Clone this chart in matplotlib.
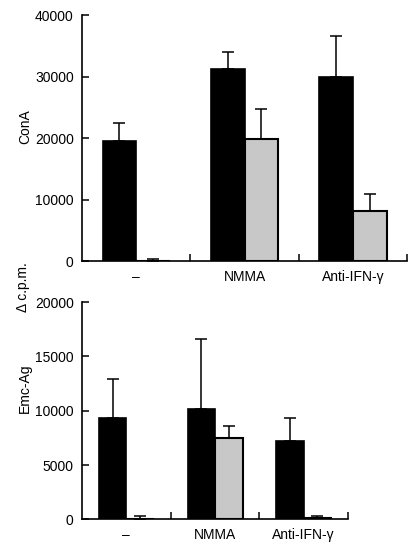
import matplotlib
matplotlib.use('Agg')
import matplotlib.pyplot as plt
import numpy as np

plt.rcParams['font.family'] = ['Liberation Sans', 'DejaVu Sans']

# -----------------------------------------------------------------------
# Data
# -----------------------------------------------------------------------
groups = ['\u2013', 'NMMA', 'Anti-IFN-\u03b3']

cona_black = [19500, 31300, 29900]
cona_black_err = [3000, 2700, 6700]
cona_gray = [100, 19900, 8100]
cona_gray_err = [300, 4800, 2900]

emc_black = [9350, 10200, 7200]
emc_black_err = [3600, 6400, 2150]
emc_gray = [50, 7450, 100]
emc_gray_err = [250, 1100, 200]


def draw_panel(ax, black, black_err, gray, gray_err, ymax, ystep):
    x = np.arange(len(groups))
    w = 0.31
    ax.bar(x - w / 2, black, w, color='black', edgecolor='black',
           linewidth=1.2, zorder=2)
    ax.bar(x + w / 2, gray, w, color='#c8c8c8', edgecolor='black',
           linewidth=1.5, zorder=2)
    zeros = np.zeros(len(groups))
    ax.errorbar(x - w / 2, black, yerr=[zeros, black_err], fmt='none',
                ecolor='black', elinewidth=1.1, capsize=4, capthick=1.1,
                zorder=1)
    ax.errorbar(x + w / 2, gray, yerr=[zeros, gray_err], fmt='none',
                ecolor='black', elinewidth=1.1, capsize=4, capthick=1.1,
                zorder=1)

    ax.set_xlim(-0.5, len(groups) - 0.5)
    ax.set_ylim(0, ymax)
    ax.set_yticks(np.arange(0, ymax + 1, ystep))
    # group boundaries carry the ticks, group centres carry the labels
    ax.set_xticks(x + 0.5)
    ax.set_xticklabels([])
    ax.set_xticks(x, minor=True)
    ax.set_xticklabels(groups, minor=True)
    ax.tick_params(axis='x', which='major', direction='in', length=5,
                   width=1.1)
    ax.tick_params(axis='x', which='minor', length=0, pad=6, labelsize=10)
    ax.tick_params(axis='y', direction='in', length=5, width=1.1,
                   labelsize=10, pad=6)

    for side in ('top', 'right'):
        ax.spines[side].set_visible(False)
    for side in ('left', 'bottom'):
        ax.spines[side].set_linewidth(1.2)


fig = plt.figure(figsize=(4.08, 5.43), dpi=100)

ax_top = fig.add_axes([0.201, 0.519, 0.797, 0.453])
draw_panel(ax_top, cona_black, cona_black_err, cona_gray, cona_gray_err,
           40000, 10000)

ax_bot = fig.add_axes([0.201, 0.0436, 0.652, 0.4])
draw_panel(ax_bot, emc_black, emc_black_err, emc_gray, emc_gray_err,
           20000, 5000)

fig.text(0.062, 0.766, 'ConA', rotation=90, ha='center', va='center',
         fontsize=10)
fig.text(0.062, 0.285, 'Emc-Ag', rotation=90, ha='center', va='center',
         fontsize=10)
fig.text(0.056, 0.471, '\u0394 c.p.m.', rotation=90, ha='center',
         va='center', fontsize=10)

fig.savefig('out.png', dpi=100)
